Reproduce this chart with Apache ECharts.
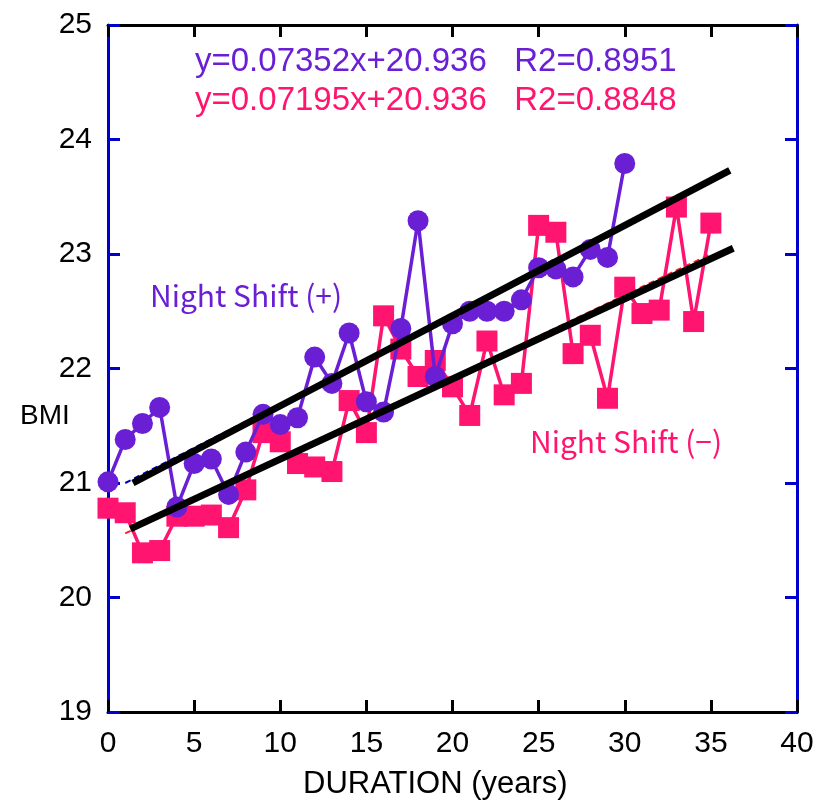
<!DOCTYPE html>
<html>
<head>
<meta charset="utf-8">
<script src="https://cdn.jsdelivr.net/npm/echarts@6/dist/echarts.min.js"></script>
<style>
  html, body { margin: 0; padding: 0; background: #fff; }
  #chart { width: 831px; height: 809px; }
</style>
</head>
<body>
<div id="chart"></div>
<script>
// BMI by years of shift work
const durationYears = Array.from({ length: 36 }, (_, i) => i);

const bmiNightPlus = [
  21.01, 21.38, 21.52, 21.66, 20.79, 21.17, 21.21, 20.90, 21.27, 21.60,
  21.51, 21.57, 22.10, 21.87, 22.31, 21.71, 21.62, 22.35, 23.29, 21.93,
  22.39, 22.50, 22.50, 22.50, 22.60, 22.88, 22.87, 22.80, 23.04, 22.97,
  23.79
];

const bmiNightMinus = [
  20.78, 20.74, 20.39, 20.41, 20.71, 20.71, 20.72, 20.61, 20.94, 21.44,
  21.36, 21.17, 21.14, 21.10, 21.72, 21.44, 22.46, 22.17, 21.93, 22.07,
  21.84, 21.59, 22.24, 21.77, 21.87, 23.25, 23.19, 22.13, 22.29, 21.74,
  22.71, 22.48, 22.51, 23.41, 22.41, 23.27
];

// fitted trend segments [x, y]
const trendPlus = [[1.45, 21.0], [36.1, 23.73]];
const trendMinus = [[1.3, 20.6], [36.3, 23.05]];
const fitPlusThin = [[1.0, 21.0], [29.3, 23.17]];
const fitMinusThin = [[1.0, 20.56], [35.0, 23.0]];

const xTicks = { min: 0, max: 40, interval: 5 };
const yTicks = { min: 19, max: 25, interval: 1 };

const eqPlus = 'y=0.07352x+20.936   R2=0.8951';
const eqMinus = 'y=0.07195x+20.936   R2=0.8848';
const labelPlus = 'Night Shift (+)';
const labelMinus = 'Night Shift (\u2212)';
const xTitle = 'DURATION (years)';
const yTitle = 'BMI';

const PURPLE = '#6a1fd4';
const PINK = '#ff1470';
const BLUE = '#0000cc';
const SANS = '"Liberation Sans", Arial, sans-serif';
const GOTHIC = '"Noto Sans CJK JP", "Noto Sans", sans-serif';

const chart = echarts.init(document.getElementById('chart'), null, { renderer: 'canvas' });

const xAxisBase = {
  type: 'value',
  min: xTicks.min, max: xTicks.max, interval: xTicks.interval,
  splitLine: { show: false },
  axisLine: { show: true, onZero: false, lineStyle: { color: '#000', width: 3 } },
  axisTick: { show: true, inside: true, length: 12, lineStyle: { color: '#000', width: 3 } }
};
const yAxisBase = {
  type: 'value',
  min: yTicks.min, max: yTicks.max, interval: yTicks.interval,
  splitLine: { show: false },
  axisLine: { show: true, onZero: false, lineStyle: { color: BLUE, width: 3 } },
  axisTick: { show: true, inside: true, length: 12, lineStyle: { color: BLUE, width: 3 } }
};

function label(text, x, y, color, font) {
  return {
    type: 'text', x: x, y: y, z: 10,
    style: { text: text, fill: color, font: font, align: 'left', verticalAlign: 'middle' }
  };
}

chart.setOption({
  animation: false,
  backgroundColor: '#fff',
  grid: { left: 108, right: 34, top: 25, bottom: 97, containLabel: false },
  xAxis: [
    Object.assign({}, xAxisBase, {
      position: 'bottom',
      axisLabel: { show: true, margin: 17, color: '#000', fontSize: 30, fontFamily: SANS }
    }),
    Object.assign({}, xAxisBase, {
      position: 'top',
      axisLabel: { show: false }
    })
  ],
  yAxis: [
    Object.assign({}, yAxisBase, {
      position: 'left',
      axisLabel: { show: true, margin: 16, color: '#000', fontSize: 30, fontFamily: SANS }
    }),
    Object.assign({}, yAxisBase, {
      position: 'right',
      axisLabel: { show: false }
    })
  ],
  series: [
    {
      name: 'fit minus',
      type: 'line',
      data: fitMinusThin,
      symbol: 'none',
      lineStyle: { color: '#ff2020', width: 2, type: [6, 4] },
      z: 1
    },
    {
      name: 'fit plus',
      type: 'line',
      data: fitPlusThin,
      symbol: 'none',
      lineStyle: { color: BLUE, width: 2, type: [6, 4] },
      z: 1
    },
    {
      name: labelMinus,
      type: 'line',
      data: bmiNightMinus.map((v, i) => [durationYears[i], v]),
      symbol: 'rect',
      symbolSize: 21,
      itemStyle: { color: PINK },
      lineStyle: { color: PINK, width: 3.5 },
      z: 2
    },
    {
      name: labelPlus,
      type: 'line',
      data: bmiNightPlus.map((v, i) => [durationYears[i], v]),
      symbol: 'circle',
      symbolSize: 21,
      itemStyle: { color: PURPLE },
      lineStyle: { color: PURPLE, width: 3.5 },
      z: 3
    },
    {
      name: 'trend minus',
      type: 'line',
      data: trendMinus,
      symbol: 'none',
      lineStyle: { color: '#000', width: 7 },
      z: 4
    },
    {
      name: 'trend plus',
      type: 'line',
      data: trendPlus,
      symbol: 'none',
      lineStyle: { color: '#000', width: 7 },
      z: 4
    }
  ],
  graphic: [
    label(eqPlus, 195, 62, PURPLE, '33px ' + SANS),
    label(eqMinus, 195, 101, PINK, '33px ' + SANS),
    label(labelPlus, 150, 296, PURPLE, '30px ' + GOTHIC),
    label(labelMinus, 530, 442, PINK, '30px ' + GOTHIC),
    label(yTitle, 20, 416, '#000', '28px ' + SANS),
    label(xTitle, 303, 784, '#000', '31px ' + SANS)
  ]
});
</script>
</body>
</html>
